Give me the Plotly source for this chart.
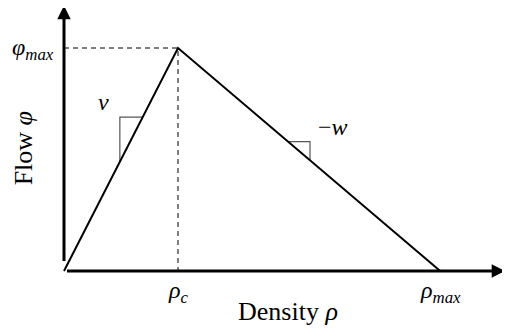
import plotly.graph_objects as go

# Fundamental diagram (triangular), normalised units
rho_c = 1.0
rho_max = 3.3
phi_max = 1.0
x_axis_end = 3.87
y_axis_end = 1.19

# slope-marker triangles (positions along the branches, in data units)
v_tri_x = 0.49
v_tri_ytop = 0.69
w_tri_x1 = 1.965
w_tri_x2 = 2.158

rho_line = [0.0, rho_c, rho_max]
phi_line = [0.0, phi_max, 0.0]


def left_branch(x):
    return phi_max * x / rho_c


def right_branch(x):
    return phi_max * (rho_max - x) / (rho_max - rho_c)


fig = go.Figure()

# dashed guides
fig.add_trace(go.Scatter(x=[0, rho_c, rho_c], y=[phi_max, phi_max, 0], mode="lines",
                         line=dict(color="black", width=1, dash="5px,4px"), hoverinfo="skip"))

# v slope marker
x_v_r = v_tri_ytop * rho_c / phi_max
fig.add_trace(go.Scatter(x=[v_tri_x, v_tri_x, x_v_r],
                         y=[left_branch(v_tri_x), v_tri_ytop, v_tri_ytop], mode="lines",
                         line=dict(color="#555555", width=1.2), hoverinfo="skip"))
# -w slope marker
y_w1 = right_branch(w_tri_x1)
y_w2 = right_branch(w_tri_x2)
fig.add_trace(go.Scatter(x=[w_tri_x1, w_tri_x2, w_tri_x2], y=[y_w1, y_w1, y_w2], mode="lines",
                         line=dict(color="#555555", width=1.2), hoverinfo="skip"))

# main fundamental diagram
fig.add_trace(go.Scatter(x=rho_line, y=phi_line, mode="lines",
                         line=dict(color="black", width=2), hoverinfo="skip"))

# axes with arrows
for (xe, ye) in [(x_axis_end, 0), (0, y_axis_end)]:
    fig.add_annotation(x=xe, y=ye, ax=0, ay=0, xref="x", yref="y", axref="x", ayref="y",
                       showarrow=True, arrowhead=2, arrowwidth=3, arrowsize=0.9,
                       arrowcolor="black", text=" ")

serif = "Liberation Serif, Times New Roman, serif"
lab = dict(family=serif, size=24, color="black")
big = dict(family=serif, size=26, color="black")
fig.add_annotation(x=0, y=phi_max, xref="x", yref="y", text="<i>φ</i><sub><i>max</i></sub>",
                   showarrow=False, xanchor="right", xshift=-8, yshift=-1, font=lab)
fig.add_annotation(x=rho_c, y=0, xref="x", yref="y", text="<i>ρ</i><sub><i>c</i></sub>",
                   showarrow=False, yanchor="top", yshift=-4, font=lab)
fig.add_annotation(x=rho_max, y=0, xref="x", yref="y", text="<i>ρ</i><sub><i>max</i></sub>",
                   showarrow=False, yanchor="top", yshift=-4, font=lab)
fig.add_annotation(x=v_tri_x, y=v_tri_ytop, xref="x", yref="y", text="<i>v</i>",
                   showarrow=False, xshift=-16, yshift=15, font=lab)
fig.add_annotation(x=w_tri_x2, y=y_w1, xref="x", yref="y", text="−<i>w</i>",
                   showarrow=False, xshift=23, yshift=15, font=lab)
fig.add_annotation(x=1.965, y=0, xref="x", yref="y", text="Density <i>ρ</i>",
                   showarrow=False, yanchor="middle", yshift=-40, font=big)
fig.add_annotation(x=0, y=phi_max * 0.55, xref="x", yref="y", text="Flow <i>φ</i>", textangle=-90,
                   showarrow=False, xanchor="center", xshift=-41, font=big)

# page body has an 8px margin, so the figure is 8px smaller and mapped accordingly
fig.update_layout(
    width=502, height=320,
    margin=dict(l=0, r=0, t=0, b=0),
    plot_bgcolor="white", paper_bgcolor="white",
    showlegend=False,
    xaxis=dict(range=[(8 - 64) / 114.0, (510 - 64) / 114.0], visible=False, fixedrange=True),
    yaxis=dict(range=[(271 - 328) / 223.0, (271 - 8) / 223.0], visible=False, fixedrange=True),
)

fig.write_html("out.html")
